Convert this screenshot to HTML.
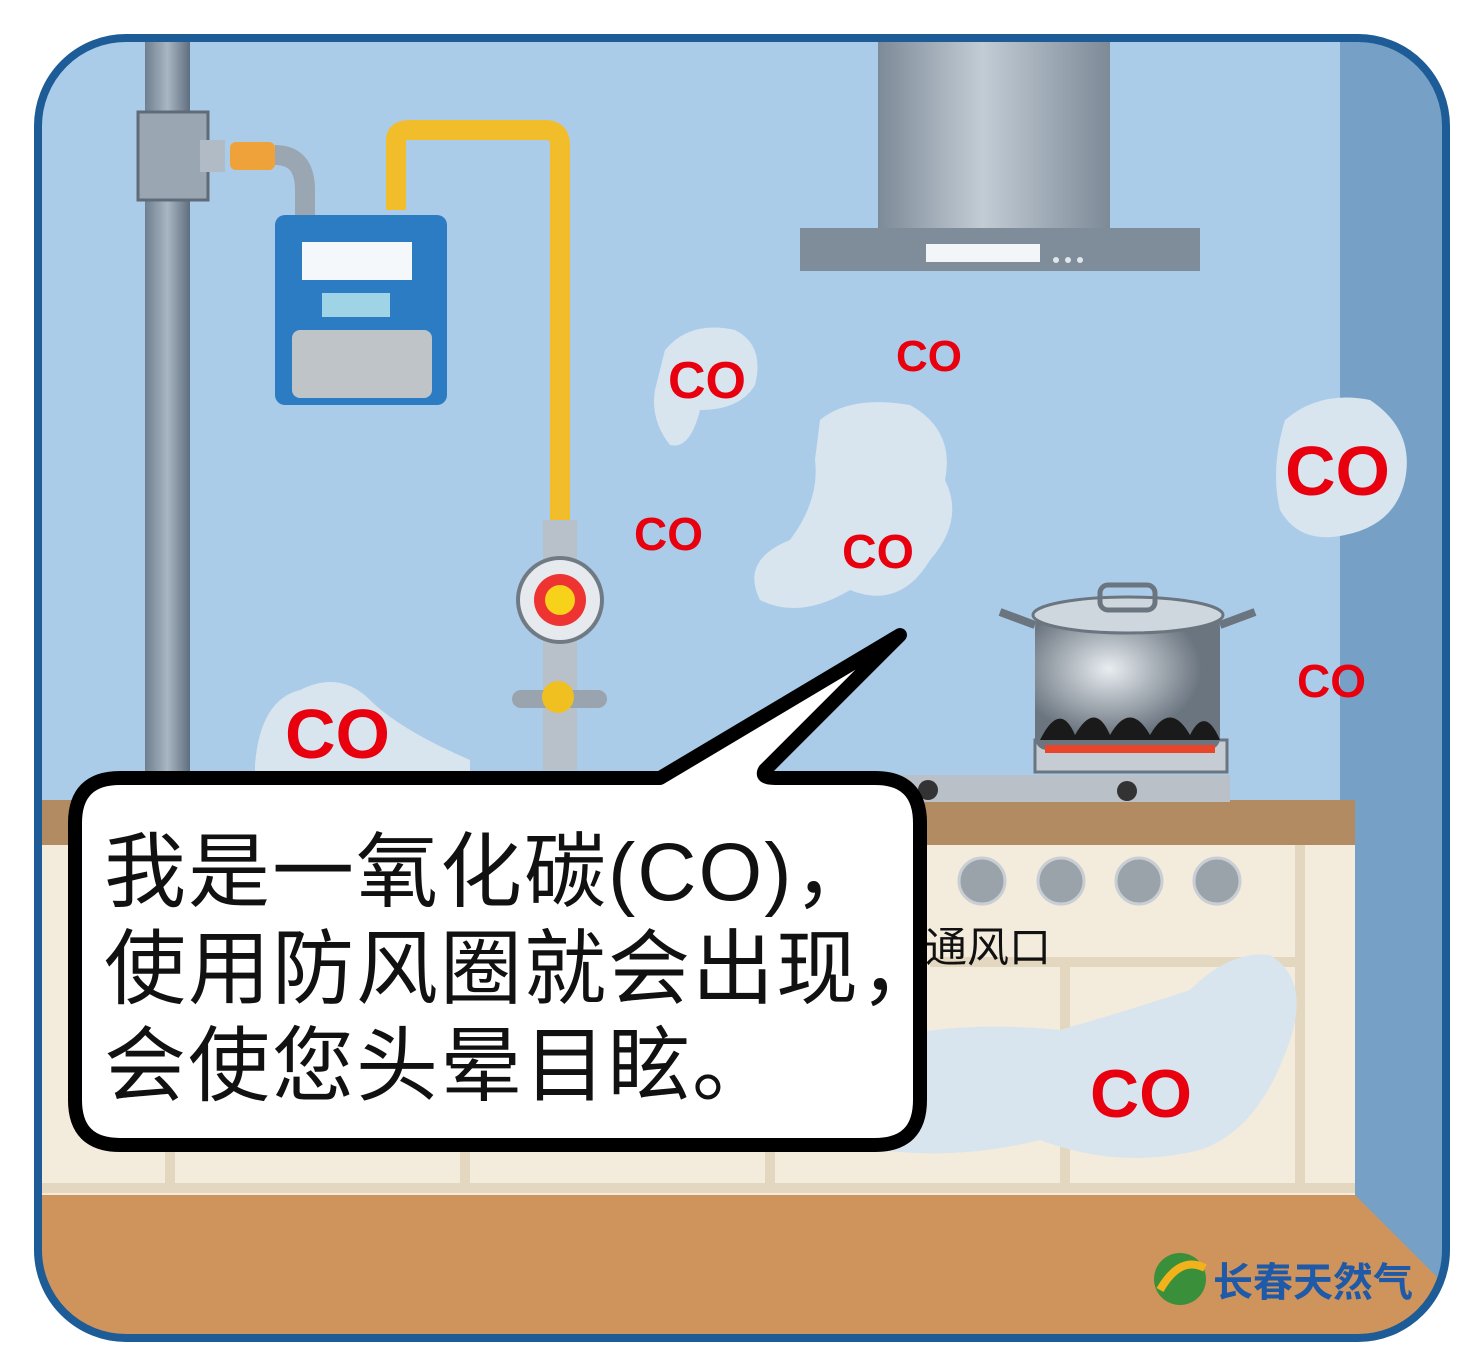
<!DOCTYPE html>
<html><head><meta charset="utf-8"><style>
html,body{margin:0;padding:0;background:#fff;}
svg{display:block;}
text{font-family:"Liberation Sans","Noto Sans CJK SC",sans-serif;}
</style></head><body>
<svg width="1479" height="1367" viewBox="0 0 1479 1367" xmlns="http://www.w3.org/2000/svg">
<defs>
<clipPath id="frame"><rect x="38" y="38" width="1408" height="1300" rx="88"/></clipPath>
<linearGradient id="pipe" x1="0" x2="1"><stop offset="0" stop-color="#6f7f90"/><stop offset="0.5" stop-color="#a9b6c2"/><stop offset="1" stop-color="#5f6e7e"/></linearGradient>
<linearGradient id="hood" x1="0" x2="1"><stop offset="0" stop-color="#7d8a97"/><stop offset="0.45" stop-color="#c2ccd5"/><stop offset="1" stop-color="#7d8a97"/></linearGradient>
<radialGradient id="pot" cx="0.4" cy="0.4"><stop offset="0" stop-color="#e8edf1"/><stop offset="1" stop-color="#6b7580"/></radialGradient>
</defs>
<g clip-path="url(#frame)">
<rect x="0" y="0" width="1479" height="1367" fill="#abcce9"/>
<polygon points="1340,40 1460,40 1460,1300 1355,1195 1340,1195" fill="#76a0c6"/>
<rect x="0" y="1195" width="1479" height="200" fill="#cf935c"/>
<polygon points="1355,1195 1460,1300 1460,1195" fill="#76a0c6"/>
<rect x="878" y="38" width="232" height="192" fill="url(#hood)"/>
<rect x="800" y="228" width="400" height="43" fill="#7f8d9a"/>
<rect x="926" y="244" width="114" height="18" fill="#f3f6f8"/>
<circle cx="1056" cy="260" r="3" fill="#dfe6ec"/><circle cx="1068" cy="260" r="3" fill="#dfe6ec"/><circle cx="1080" cy="260" r="3" fill="#dfe6ec"/>
<rect x="145" y="38" width="45" height="740" fill="url(#pipe)"/>
<rect x="138" y="112" width="70" height="88" fill="#9aa6b2" stroke="#5f6b78" stroke-width="3"/>
<rect x="200" y="140" width="25" height="32" fill="#b0bbc6"/>
<rect x="230" y="142" width="45" height="28" rx="6" fill="#f0a23a"/>
<path d="M275 155 Q305 155 305 190 L305 215" stroke="#9aa6b2" stroke-width="20" fill="none"/>
<path d="M396 210 L396 140 Q396 130 410 130 L545 130 Q560 130 560 145 L560 525" stroke="#f2bd2a" stroke-width="20" fill="none"/>
<rect x="275" y="215" width="172" height="190" rx="10" fill="#2c7cc4"/>
<rect x="302" y="242" width="110" height="38" fill="#f4f8fb"/>
<rect x="322" y="293" width="68" height="24" fill="#9fd4e6"/>
<rect x="292" y="330" width="140" height="68" rx="8" fill="#bfc4c8"/>
<rect x="543" y="520" width="34" height="250" fill="#b8c1c9"/>
<circle cx="560" cy="600" r="42" fill="#e6eaee" stroke="#6f7a85" stroke-width="4"/>
<circle cx="560" cy="600" r="26" fill="#e33"/>
<circle cx="560" cy="600" r="15" fill="#f7d21a"/>
<rect x="512" y="690" width="95" height="18" rx="9" fill="#9aa4ae"/>
<circle cx="558" cy="697" r="16" fill="#f0c020"/>
<g fill="#d8e5ef">
<path d="M665 350 Q690 320 735 330 Q765 345 755 385 Q740 410 700 410 Q690 450 670 445 Q650 420 655 390 Z"/>
<path d="M820 420 Q850 395 910 405 Q955 430 945 480 Q965 520 930 560 Q900 610 850 590 Q800 620 760 600 Q740 560 790 540 Q820 500 815 460 Z"/>
<path d="M1285 420 Q1320 390 1370 400 Q1415 430 1405 480 Q1395 525 1345 535 Q1300 545 1280 510 Q1270 470 1285 420 Z"/>
<path d="M255 765 Q260 700 300 690 Q340 670 370 700 Q400 730 470 760 L470 775 L255 775 Z"/>
</g>
<rect x="42" y="800" width="1313" height="45" fill="#b28b63"/>
<rect x="42" y="845" width="1313" height="350" fill="#f3ebdb"/>
<g stroke="#e4d7bf" stroke-width="10" fill="none">
<line x1="42" y1="1188" x2="1355" y2="1188"/>
<line x1="1300" y1="845" x2="1300" y2="1190"/>
<line x1="1065" y1="965" x2="1065" y2="1190"/>
<line x1="930" y1="962" x2="1300" y2="962"/>
<line x1="170" y1="1150" x2="170" y2="1190"/>
<line x1="465" y1="1150" x2="465" y2="1190"/>
<line x1="770" y1="1150" x2="770" y2="1190"/>
</g>
<path d="M880 1040 Q960 1020 1060 1030 Q1130 1010 1190 990 Q1230 950 1270 955 Q1310 980 1290 1040 Q1260 1130 1200 1150 Q1120 1170 1040 1140 Q960 1160 880 1150 Z" fill="#d8e5ef"/>
<g fill="#9aa2aa" stroke="#c8ced4" stroke-width="3">
<circle cx="982" cy="881" r="23"/><circle cx="1061" cy="881" r="23"/><circle cx="1139" cy="881" r="23"/><circle cx="1217" cy="881" r="23"/>
</g>
<text x="925" y="962" font-size="42" fill="#111">通风口</text>
<rect x="880" y="775" width="350" height="27" fill="#b9c0c7"/>
<circle cx="1127" cy="791" r="10" fill="#333"/><circle cx="928" cy="790" r="10" fill="#333"/>
<rect x="1035" y="740" width="192" height="32" fill="#c5ccd3" stroke="#6b7580" stroke-width="3"/>
<rect x="1035" y="615" width="185" height="135" rx="12" fill="url(#pot)"/>
<ellipse cx="1128" cy="615" rx="95" ry="18" fill="#cfd7de" stroke="#6b7580" stroke-width="3"/>
<rect x="1100" y="585" width="55" height="25" rx="8" fill="none" stroke="#6b7580" stroke-width="5"/>
<path d="M1035 625 L1000 612 M1220 625 L1255 612" stroke="#6b7580" stroke-width="8"/>
<path d="M1040 740 Q1060 700 1075 735 Q1095 700 1110 735 Q1130 700 1150 735 Q1170 700 1190 735 Q1205 705 1220 740 Z" fill="#1a1a1a"/>
<rect x="1045" y="745" width="170" height="8" fill="#e8452a"/>
<g fill="#e8000f" font-weight="bold">
<text x="668" y="398" font-size="52">CO</text>
<text x="896" y="371" font-size="44">CO</text>
<text x="634" y="550" font-size="46">CO</text>
<text x="842" y="568" font-size="48">CO</text>
<text x="1285" y="495" font-size="70">CO</text>
<text x="1297" y="697" font-size="46">CO</text>
<text x="285" y="758" font-size="70">CO</text>
<text x="1090" y="1117" font-size="68">CO</text>
</g>
<path d="M120 778 L660 778 L900 635 L765 770 Q760 778 775 778 L875 778 Q920 778 920 823 L920 1100 Q920 1145 875 1145 L120 1145 Q75 1145 75 1100 L75 823 Q75 778 120 778 Z" fill="#fff" stroke="#000" stroke-width="14" stroke-linejoin="round"/>
<g font-size="82" fill="#111" letter-spacing="2">
<text x="104" y="900">我是一氧化碳(CO)，</text>
<text x="104" y="997">使用防风圈就会出现，</text>
<text x="104" y="1094">会使您头晕目眩。</text>
</g>
<circle cx="1180" cy="1279" r="26" fill="#3a8f3a"/>
<path d="M1160 1290 Q1180 1255 1205 1268" stroke="#f2b21c" stroke-width="8" fill="none"/>
<text x="1213" y="1296" font-size="40" font-weight="bold" fill="#1e5aa8">长春天然气</text>
</g>
<rect x="38" y="38" width="1408" height="1300" rx="88" fill="none" stroke="#1d5c96" stroke-width="8"/>
</svg>
</body></html>
